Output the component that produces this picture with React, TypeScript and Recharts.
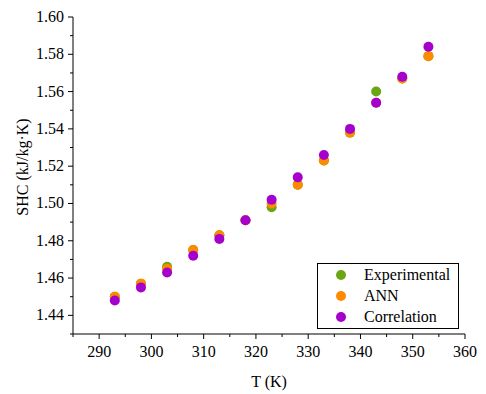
import React from "react";
import { ScatterChart, Scatter, XAxis, YAxis, Legend, Label } from "recharts";

const temps = [293, 298, 303, 308, 313, 318, 323, 328, 333, 338, 343, 348, 353];
const experimental = [1.45, 1.457, 1.466, 1.475, 1.483, 1.491, 1.498, 1.51, 1.523, 1.538, 1.56, 1.567, 1.579];
const ann = [1.45, 1.457, 1.465, 1.475, 1.483, 1.491, 1.5, 1.51, 1.523, 1.538, 1.554, 1.567, 1.579];
const correlation = [1.448, 1.455, 1.463, 1.472, 1.481, 1.491, 1.502, 1.514, 1.526, 1.54, 1.554, 1.568, 1.584];

const xTicks = [285, 290, 295, 300, 305, 310, 315, 320, 325, 330, 335, 340, 345, 350, 355, 360];
const yTicks = [1.43, 1.44, 1.45, 1.46, 1.47, 1.48, 1.49, 1.5, 1.51, 1.52, 1.53, 1.54, 1.55, 1.56, 1.57, 1.58, 1.59, 1.6];

const seriesNames = ["Experimental", "ANN", "Correlation"];
const colors = ["#6aa514", "#ff8a00", "#a600cc"];

const FONT = "Liberation Serif, Times New Roman, Times, DejaVu Serif, serif";

const toPoints = (vals: number[]) => temps.map((t, i) => ({ x: t, y: vals[i] }));

const XTick = (props: any) => {
  const { x, y, payload } = props;
  const v = payload.value;
  const major = v % 10 === 0;
  return (
    <g>
      <line x1={x} x2={x} y1={y} y2={y + (major ? 5 : 3)} stroke="#000" strokeWidth={1} />
      {major && (
        <text x={x} y={y + 23} textAnchor="middle" fontSize={16} fontFamily={FONT} fill="#000">
          {v}
        </text>
      )}
    </g>
  );
};

const YTick = (props: any) => {
  const { x, y, payload } = props;
  const v = payload.value;
  const major = Math.round(v * 100) % 2 === 0;
  return (
    <g>
      <line x1={x - (major ? 5 : 3)} x2={x} y1={y} y2={y} stroke="#000" strokeWidth={1} />
      {major && (
        <text x={x - 9} y={y + 5} textAnchor="end" fontSize={16} fontFamily={FONT} fill="#000">
          {v.toFixed(2)}
        </text>
      )}
    </g>
  );
};

const LegendBox = () => (
  <div
    style={{
      position: "relative",
      width: 142,
      height: 66,
      border: "1px solid #000",
      boxSizing: "border-box",
      background: "#fff",
      fontFamily: FONT,
      fontSize: 16,
      color: "#000",
    }}
  >
    {seriesNames.map((n, i) => (
      <div key={n} style={{ position: "absolute", left: 0, top: 1 + i * 21, height: 20, width: 140 }}>
        <svg width={12} height={12} style={{ position: "absolute", left: 17, top: 4 }}>
          <circle cx={6} cy={6} r={5} fill={colors[i]} />
        </svg>
        <span style={{ position: "absolute", left: 46, top: 0, lineHeight: "20px", whiteSpace: "nowrap" }}>{n}</span>
      </div>
    ))}
  </div>
);

const dot = (color: string) => (p: any) => <circle cx={p.cx} cy={p.cy} r={5} fill={color} />;

export default function App() {
  const data = [experimental, ann, correlation];
  return (
    <ScatterChart width={478} height={386} margin={{ top: 9, right: 21, bottom: 0, left: 0 }}>
      <XAxis
        dataKey="x"
        type="number"
        domain={[285, 360]}
        ticks={xTicks}
        interval={0}
        tickSize={0}
        tickMargin={0}
        tick={<XTick />}
        height={60}
        axisLine={{ stroke: "#000", strokeWidth: 1 }}
        allowDataOverflow
      >
        <Label
          content={() => (
            <text x={261} y={379} textAnchor="middle" fontSize={16} fontFamily={FONT} fill="#000">
              T (K)
            </text>
          )}
        />
      </XAxis>
      <XAxis
        xAxisId="top"
        orientation="top"
        type="number"
        domain={[285, 360]}
        height={0}
        tick={false}
        tickLine={false}
        axisLine={{ stroke: "#000", strokeWidth: 1 }}
      />
      <YAxis
        dataKey="y"
        type="number"
        domain={[1.43, 1.6]}
        ticks={yTicks}
        interval={0}
        tickSize={0}
        tickMargin={0}
        tick={<YTick />}
        width={65}
        axisLine={{ stroke: "#000", strokeWidth: 1 }}
        allowDataOverflow
      >
        <Label
          content={() => (
            <text
              x={14}
              y={159}
              transform="rotate(-90 14 159)"
              textAnchor="middle"
              dominantBaseline="central"
              fontSize={16}
              fontFamily={FONT}
              fill="#000"
            >
              SHC (kJ/kg·K)
            </text>
          )}
        />
      </YAxis>
      <YAxis
        yAxisId="right"
        orientation="right"
        type="number"
        domain={[1.43, 1.6]}
        width={0}
        tick={false}
        tickLine={false}
        axisLine={{ stroke: "#000", strokeWidth: 1 }}
      />
      <Legend
        layout="horizontal"
        align="center"
        verticalAlign="middle"
        content={<LegendBox />}
        wrapperStyle={{ position: "absolute", left: 309, top: 255, width: 142, height: 66 }}
      />
      {data.map((vals, i) => (
        <Scatter
          key={seriesNames[i]}
          name={seriesNames[i]}
          data={toPoints(vals)}
          fill={colors[i]}
          shape={dot(colors[i])}
          isAnimationActive={false}
        />
      ))}
    </ScatterChart>
  );
}
